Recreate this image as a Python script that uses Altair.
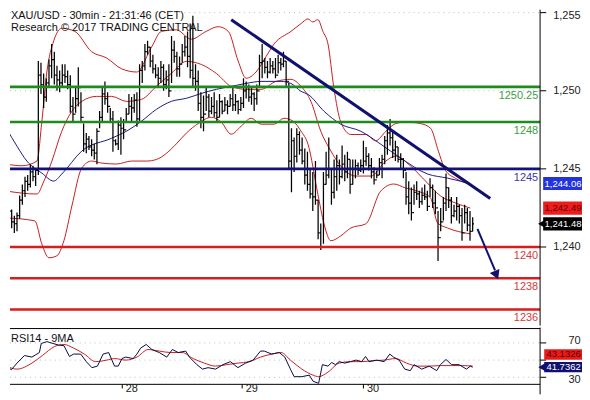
import altair as alt
import pandas as pd

# ---------------- data ----------------
# 30-min bars, index 0..175
highs = [1243.0, 1243.0, 1242.4, 1242.0, 1242.2, 1243.3, 1244.0, 1244.5, 1244.6, 1245.3,
         1245.2, 1245.0, 1251.9, 1251.8, 1251.1, 1250.8, 1252.0, 1253.0, 1252.5, 1251.6,
         1251.3, 1251.7, 1251.7, 1251.3, 1251.0, 1249.6, 1250.2, 1251.5, 1249.9, 1247.9,
         1247.3, 1247.1, 1246.9, 1246.6, 1247.6, 1248.7, 1250.2, 1250.6, 1249.9, 1248.9,
         1248.7, 1246.9, 1248.1, 1248.3, 1248.2, 1248.9, 1249.8, 1249.6, 1249.8, 1249.9,
         1251.7, 1251.9, 1253.0, 1253.2, 1252.8, 1252.3, 1251.7, 1251.5, 1251.9, 1251.7,
         1251.3, 1251.7, 1253.5, 1253.2, 1252.5, 1252.2, 1253.0, 1253.5, 1253.8, 1254.3,
         1254.8, 1251.7, 1251.3, 1249.9, 1249.7, 1250.2, 1249.8, 1249.6, 1249.9, 1249.4,
         1249.8, 1249.4, 1249.6, 1249.4, 1249.8, 1250.2, 1249.8, 1249.4, 1249.6, 1250.8,
         1250.6, 1250.4, 1250.2, 1249.9, 1250.4, 1252.3, 1253.0, 1252.1, 1251.9, 1252.1,
         1251.9, 1252.1, 1252.3, 1252.1, 1252.5, 1251.9, 1250.5, 1247.6, 1247.0, 1247.6,
         1247.4, 1247.0, 1246.3, 1246.1, 1245.0, 1244.8, 1245.5, 1243.0, 1241.5, 1244.8,
         1246.1, 1247.0, 1245.0, 1245.6, 1245.9, 1245.6, 1246.5, 1245.9, 1246.1, 1245.6,
         1245.6, 1245.6, 1245.4, 1245.6, 1246.8, 1246.4, 1246.0, 1245.7, 1245.1, 1244.9,
         1245.7, 1245.9, 1247.1, 1247.8, 1248.2, 1247.4, 1246.8, 1246.4, 1246.0, 1245.7,
         1244.8, 1244.2, 1243.8, 1244.0, 1244.2, 1243.6, 1243.8, 1244.0, 1243.6, 1244.4,
         1244.0, 1243.6, 1242.3, 1242.5, 1243.2, 1244.7, 1243.8, 1243.2, 1242.7, 1243.2,
         1242.7, 1242.5, 1242.7, 1242.5, 1242.3, 1241.9]
lows = [1241.8, 1242.0, 1241.2, 1240.9, 1241.0, 1241.8, 1242.7, 1243.2, 1243.6, 1243.8,
        1244.2, 1243.9, 1244.6, 1249.8, 1248.9, 1249.3, 1250.2, 1250.8, 1250.4, 1250.0,
        1249.9, 1250.2, 1250.5, 1250.1, 1248.6, 1248.0, 1248.6, 1249.0, 1248.0, 1246.1,
        1246.0, 1246.2, 1245.8, 1245.6, 1245.3, 1247.6, 1248.0, 1249.1, 1248.6, 1248.0,
        1246.1, 1246.5, 1246.2, 1245.9, 1246.9, 1248.0, 1248.5, 1248.0, 1248.6, 1247.7,
        1248.0, 1250.5, 1251.3, 1252.3, 1251.5, 1251.1, 1250.8, 1250.3, 1250.5, 1250.0,
        1250.1, 1249.6, 1250.5, 1251.8, 1250.9, 1250.9, 1251.8, 1252.2, 1251.5, 1250.8,
        1250.2, 1250.0, 1248.7, 1247.6, 1247.4, 1248.7, 1248.3, 1248.5, 1248.3, 1248.0,
        1248.3, 1248.5, 1248.7, 1248.5, 1249.0, 1248.7, 1248.7, 1248.5, 1248.7, 1248.9,
        1249.5, 1249.3, 1249.1, 1248.7, 1249.1, 1250.2, 1250.8, 1251.1, 1250.8, 1251.1,
        1251.1, 1250.8, 1251.1, 1251.3, 1251.5, 1250.2, 1245.0, 1243.5, 1244.8, 1245.4,
        1245.9, 1245.3, 1244.0, 1243.6, 1243.1, 1242.3, 1242.7, 1240.5, 1239.8, 1240.2,
        1244.0, 1244.4, 1242.7, 1243.1, 1243.6, 1244.0, 1244.4, 1244.2, 1244.4, 1243.4,
        1244.0, 1244.4, 1244.6, 1244.8, 1244.7, 1245.2, 1244.9, 1244.4, 1244.0, 1244.4,
        1244.6, 1244.4, 1245.3, 1245.9, 1246.5, 1245.7, 1245.5, 1245.4, 1245.0, 1244.4,
        1242.7, 1242.1, 1241.7, 1242.7, 1243.0, 1242.5, 1242.7, 1243.0, 1242.3, 1243.2,
        1242.5, 1242.1, 1239.1, 1241.0, 1241.7, 1242.3, 1242.5, 1241.5, 1241.9, 1241.7,
        1241.5, 1240.4, 1241.5, 1241.0, 1240.4, 1241.0]
closes = [1242.5, 1242.3, 1241.6, 1241.5, 1242.0, 1243.0, 1243.6, 1244.2, 1244.0, 1244.8,
          1244.5, 1244.9, 1251.0, 1250.4, 1249.6, 1250.5, 1251.6, 1252.0, 1251.0, 1250.7,
          1250.5, 1251.0, 1250.9, 1250.4, 1249.0, 1248.5, 1249.5, 1250.2, 1248.3, 1246.6,
          1246.9, 1246.4, 1246.2, 1246.0, 1247.4, 1248.3, 1249.8, 1249.5, 1249.0, 1248.2,
          1246.8, 1246.6, 1247.8, 1247.6, 1247.5, 1248.5, 1249.0, 1248.9, 1249.4, 1248.2,
          1251.3, 1251.6, 1252.5, 1252.8, 1251.9, 1251.4, 1251.0, 1250.8, 1251.5, 1250.4,
          1250.7, 1250.0, 1252.6, 1252.2, 1251.4, 1251.7, 1252.5, 1252.8, 1252.2, 1251.3,
          1250.8, 1250.6, 1249.2, 1248.3, 1248.5, 1249.6, 1248.7, 1249.0, 1248.6, 1248.3,
          1249.3, 1248.7, 1249.1, 1249.0, 1249.5, 1249.1, 1249.3, 1248.8, 1249.2, 1250.0,
          1250.2, 1249.6, 1249.8, 1249.5, 1250.0, 1251.8, 1251.9, 1251.5, 1251.2, 1251.6,
          1251.4, 1251.0, 1251.8, 1251.7, 1251.9, 1250.6, 1245.5, 1246.8, 1245.8, 1247.2,
          1246.2, 1245.5, 1244.6, 1244.0, 1243.4, 1243.2, 1243.0, 1240.9, 1240.0, 1244.0,
          1244.6, 1245.0, 1243.5, 1244.5, 1245.2, 1244.5, 1245.3, 1244.8, 1245.6, 1244.0,
          1245.0, 1245.2, 1244.9, 1245.2, 1245.5, 1245.8, 1245.2, 1244.8, 1244.3, 1244.6,
          1245.4, 1245.6, 1246.8, 1247.3, 1247.0, 1246.2, 1246.4, 1245.6, 1245.6, 1244.9,
          1243.2, 1242.8, 1242.2, 1243.5, 1243.4, 1242.9, 1243.3, 1243.2, 1242.6, 1243.8,
          1242.8, 1242.5, 1240.6, 1241.6, 1242.8, 1243.8, 1243.0, 1242.0, 1242.3, 1242.6,
          1242.0, 1240.9, 1242.2, 1241.4, 1241.0, 1241.48]
first_open = 1242.6

# Bollinger bands (upper / middle / lower) and navy moving average, sampled
upper_i = [0, 5.9, 11.5, 13.3, 15.2, 17.8, 20.8, 25.7, 32, 37.6, 43.3, 48.9, 54.5, 58.2,
           63.8, 69.4, 75, 79.5, 83.3, 87, 90, 93.7, 97.5, 100.5, 106.8, 110.6, 113.2, 115,
           116.9, 118.8, 120.7, 122.9, 125.5, 129.3, 134.9, 138.6, 142.4, 146.1, 149.8,
           155.4, 159.2, 162.2, 164.8, 168.5, 174.1]
upper_p = [1245.3, 1245.2, 1245.5, 1248.0, 1251.2, 1253.2, 1254.0, 1253.8, 1252.5, 1252.1,
           1251.4, 1251.2, 1252.8, 1253.8, 1253.9, 1253.3, 1253.8, 1254.1, 1253.8, 1251.9,
           1250.8, 1251.2, 1252.2, 1253.0, 1253.8, 1254.3, 1254.6, 1254.4, 1254.55, 1253.8,
           1253.0, 1250.2, 1248.0, 1247.2, 1247.2, 1246.8, 1247.4, 1247.9, 1248.0, 1247.9,
           1247.6, 1246.1, 1244.9, 1244.4, 1244.0]
mid_i = [0, 11.5, 14.1, 17.1, 20.8, 24.6, 28.3, 33.9, 39.5, 45.1, 50.7, 56.3, 61.9, 67.6,
         73.2, 78.8, 84.4, 90, 95.6, 101.2, 106.8, 110.6, 114.3, 118.0, 121.8, 125.5, 131.1,
         136.8, 142.4, 146.1, 151.7, 157.3, 162.9, 168.5, 174.1]
mid_p = [1243.58, 1243.39, 1244.22, 1245.5, 1247.41, 1248.69, 1249.32, 1249.64, 1249.64,
         1249.32, 1249.45, 1250.28, 1251.11, 1251.88, 1251.68, 1251.11, 1250.28, 1250.09,
         1250.09, 1250.6, 1250.73, 1250.28, 1249.32, 1247.41, 1246.14, 1245.18, 1244.54,
         1244.54, 1245.5, 1245.82, 1245.18, 1244.22, 1243.27, 1242.82, 1242.49]
lower_i = [0, 10.7, 13.3, 16.0, 19.0, 21.6, 24.6, 28.3, 32.0, 35.8, 41.4, 47.0, 52.6, 56.3,
           60.1, 63.8, 67.6, 72.0, 76.9, 80.6, 84.4, 88.1, 91.9, 95.6, 100.5, 104.2, 107.6,
           110.6, 113.2, 116.9, 119.2, 121.8, 125.5, 129.3, 134.9, 140.5, 145.4, 149.8,
           154.3, 159.2, 161.8, 165.5, 174.1]
lower_p = [1241.86, 1241.67, 1240.2, 1239.31, 1239.44, 1240.4, 1242.63, 1245.05, 1245.5,
           1245.37, 1245.31, 1245.5, 1245.5, 1245.6, 1246.0, 1246.6, 1247.3, 1247.9,
           1248.3, 1248.0, 1247.22, 1247.73, 1248.24, 1247.86, 1247.86, 1248.24, 1248.05,
           1247.41, 1246.58, 1243.39, 1241.48, 1240.4, 1240.71, 1241.22, 1241.48, 1243.58,
           1244.03, 1243.78, 1243.58, 1243.14, 1241.54, 1241.22, 1240.84]
ma_i = [0, 4.0, 7.7, 13.3, 17.8, 20.8, 28.3, 39.5, 45.1, 50.7, 56.3, 61.9, 67.6, 73.2,
        78.8, 84.4, 90.0, 95.6, 103.1, 106.8, 110.6, 113.2, 119.2, 125.5, 133.0, 140.5,
        148.0, 158.1, 165.5, 170.3, 174.1]
ma_p = [1247.6, 1246.45, 1245.5, 1244.73, 1244.22, 1244.67, 1246.14, 1246.96, 1247.41,
        1248.05, 1248.81, 1249.32, 1249.52, 1249.83, 1250.09, 1250.28, 1250.47, 1250.6,
        1250.6, 1250.47, 1249.96, 1249.77, 1248.69, 1247.86, 1247.41, 1246.58, 1245.69,
        1244.67, 1244.41, 1244.22, 1244.06]

# trend line and projected arrow
trend_i = [84.4, 181.6]
trend_p = [1254.55, 1243.1]
arrow_i = [176.8, 183.4]
arrow_p = [1241.16, 1238.5]
arrow_head_i = [183.9]
arrow_head_p = [1238.2]

# support / resistance levels
levels = [1250.25, 1248, 1245, 1240, 1238, 1236]
level_labels = ["1250.25", "1248", "1245", "1240", "1238", "1236"]
level_colors = ["#1f8a1f", "#1f8a1f", "#12127a", "#d91c1c", "#d91c1c", "#d91c1c"]
level_text_colors = ["#3e9e3e", "#3e9e3e", "#3a3aa6", "#d23c3c", "#d23c3c", "#d23c3c"]

price_ticks = [1255, 1250, 1245, 1240]
price_tick_labels = ["1,255", "1,250", "1,245", "1,240"]

last_values = [1244.06, 1242.49, 1241.48]
last_labels = ["1,244.06", "1,242.49", "1,241.48"]
last_fill = ["#2233dd", "#ee1c1c", "#000000"]
last_text = ["#ffffff", "#5a0000", "#ffffff"]

# RSI(14) and its 9-period MA
rsi_i = [0, 1.9, 4.0, 6.8, 9.6, 12.4, 13.1, 15.2, 19.5, 21.6, 23.7, 25.2, 27.9, 30, 32.1,
         34.2, 36.3, 38.4, 40.6, 42, 43.4, 44.8, 47.6, 49, 50.4, 52.5, 54.6, 57.4, 60.2,
         62.3, 64.5, 67.3, 68.7, 71.5, 73.6, 75.7, 78.5, 81.3, 84.1, 86.9, 89.8, 92.6, 95.4,
         96.8, 99.6, 102.4, 104.5, 106.6, 108, 110.9, 113.7, 115.1, 117.2, 118.6, 120.7,
         122.1, 123.5, 124.9, 127, 129.1, 131.3, 133.3, 134.8, 136.1, 139, 141.8, 143.9,
         145.3, 147.4, 149.5, 151.6, 153, 155.9, 158.7, 161.5, 162.9, 165, 167.1, 169.9,
         172.7, 174.1, 175]
rsi_v = [43, 38.8, 46.5, 55.3, 53.5, 58.8, 69.3, 71.5, 67.5, 66.8, 54.2, 57, 57, 48.2, 41.2,
         43, 57, 58.8, 43, 43, 51.8, 53.5, 51.8, 57, 64, 68.2, 62.3, 58.8, 53.5, 62.3, 58.8,
         60.5, 53.5, 44.7, 39.5, 41.2, 39.5, 44.7, 48.2, 41.2, 46.5, 50, 60.5, 60.5, 57,
         58.8, 53.5, 39.5, 30.7, 30.7, 32.5, 25.4, 23, 44.7, 43, 47.2, 44.7, 48.2, 46.5,
         48.2, 50, 48.2, 54.2, 48.2, 50, 48.2, 57, 53.5, 50, 39.5, 37.7, 44.7, 39.5, 43,
         37.7, 44.7, 50.7, 44.7, 44.7, 39.5, 43, 41.74]
rsima_i = [0, 4, 9.6, 13.5, 18.1, 21.6, 25.2, 29.3, 33.5, 37.7, 40.6, 44.8, 49, 53.2, 57.4,
           61.6, 65.9, 70.1, 74.3, 78.5, 82.7, 86.9, 91.2, 95.4, 99.6, 103.1, 106.6, 110.9,
           115.1, 117.2, 120.7, 124.9, 129.1, 133.3, 137.5, 141.8, 146, 150.2, 154.4, 158.7,
           162.9, 167.1, 171.3, 175]
rsima_v = [43, 39.5, 46.5, 55.3, 65.8, 68.2, 64, 57, 48.2, 50, 51.8, 50, 53.5, 62.3, 60.5,
           58.8, 58.8, 51.8, 46.5, 43, 44.7, 46.5, 48.2, 53.5, 57, 58.8, 50, 39.5, 32.5, 30.7,
           36, 46.5, 48.2, 48.2, 49.3, 50, 51.8, 46.5, 43, 43, 43.6, 43.6, 43.6, 43.13]
rsi_ticks = [70, 50, 30]
rsi_tick_labels = ["70", "", "30"]
rsi_last_labels = ["43.1326", "41.7362"]
rsi_last_values = [43.1326, 41.7362]

day_pos = [43.5, 88.5, 134.0]
day_labels = ["28", "29", "30"]

title_lines = ["XAU/USD - 30min - 21:31:46 (CET)", "Research \u00a9 2017 TRADING CENTRAL"]

# ---------------- layout constants ----------------
FONT = "Liberation Sans"
X_DOMAIN = [1.37, 216.03]
AXIS_X = 200.3
LABEL_X = 215.5
BADGE_X0 = 201.45
BADGE_X1 = 222.0
BADGE_TX = 202.0
Y_MAIN = [1234.97, 1255.19]
Y_RSI = [10.17, 87.86]
W = 574
H_MAIN = 317
H_RSI = 67

xs = alt.Scale(domain=X_DOMAIN, nice=False, zero=False)
ys = alt.Scale(domain=Y_MAIN, nice=False, zero=False)
yr = alt.Scale(domain=Y_RSI, nice=False, zero=False)


def X(f):
    return alt.X(f, type="quantitative", scale=xs, axis=None)


def YM(f):
    return alt.Y(f, type="quantitative", scale=ys, axis=None)


def YR(f):
    return alt.Y(f, type="quantitative", scale=yr, axis=None)


# ---------------- main panel ----------------
n = len(closes)
bars = pd.DataFrame({
    "i": list(range(n)),
    "high": highs[:n],
    "low": lows[:n],
    "close": closes,
    "open": [first_open] + closes[:-1],
})
bars["xo"] = bars["i"] - 0.5
bars["xc"] = bars["i"] + 0.5

grid_df = pd.DataFrame({"p": price_ticks, "x0": X_DOMAIN[0], "x1": AXIS_X})
grid = alt.Chart(grid_df).mark_rule(color="#bdbdbd", strokeDash=[1, 4]).encode(
    x=X("x0"), x2="x1", y=YM("p"))

band_rows = []
for name, ii, pp, col in [("upper", upper_i, upper_p, "#c62020"),
                          ("mid", mid_i, mid_p, "#c62020"),
                          ("lower", lower_i, lower_p, "#c62020"),
                          ("ma", ma_i, ma_p, "#1c1c8a")]:
    for a, b in zip(ii, pp):
        band_rows.append({"i": a, "p": b, "name": name, "col": col})
bands_df = pd.DataFrame(band_rows)
bands = alt.Chart(bands_df).mark_line(strokeWidth=1, clip=True, interpolate="monotone").encode(
    x=X("i"), y=YM("p"), detail="name:N", color=alt.Color("col:N", scale=None))

BW = 1.25
bc = alt.Chart(bars)
hl = bc.mark_rule(color="#000000", strokeWidth=BW, clip=True).encode(x=X("i"), y=YM("low"), y2="high")
op = bc.mark_rule(color="#000000", strokeWidth=BW, clip=True).encode(x=X("xo"), x2="i", y=YM("open"))
cl = bc.mark_rule(color="#000000", strokeWidth=BW, clip=True).encode(x=X("i"), x2="xc", y=YM("close"))

lev_df = pd.DataFrame({"p": levels, "lab": level_labels, "col": level_colors,
                       "tcol": level_text_colors, "x0": X_DOMAIN[0], "x1": AXIS_X,
                       "tx": AXIS_X - 0.7})
lev = alt.Chart(lev_df).mark_rule(strokeWidth=2.6).encode(
    x=X("x0"), x2="x1", y=YM("p"), color=alt.Color("col:N", scale=None))
lev_txt = alt.Chart(lev_df).mark_text(align="right", baseline="top", dy=3, fontSize=11,
                                      font=FONT).encode(
    x=X("tx"), y=YM("p"), text="lab:N", color=alt.Color("tcol:N", scale=None))

trend = alt.Chart(pd.DataFrame({"i": trend_i, "p": trend_p})).mark_line(
    color="#10106e", strokeWidth=3).encode(x=X("i"), y=YM("p"))
arrow = alt.Chart(pd.DataFrame({"i": arrow_i, "p": arrow_p})).mark_line(
    color="#10106e", strokeWidth=2).encode(x=X("i"), y=YM("p"))
arrow_head = alt.Chart(pd.DataFrame({"i": arrow_head_i, "p": arrow_head_p})).mark_point(
    shape="triangle-down", filled=True, color="#10106e", opacity=1, size=110, angle=337).encode(
    x=X("i"), y=YM("p"))

axis_line = alt.Chart(pd.DataFrame({"x": [AXIS_X], "y0": [Y_MAIN[0]], "y1": [Y_MAIN[1]]})).mark_rule(
    color="#000000").encode(x=X("x"), y=YM("y0"), y2="y1")
tick_df = pd.DataFrame({"p": price_ticks, "lab": price_tick_labels, "x0": AXIS_X,
                        "x1": AXIS_X + 2.3, "tx": LABEL_X})
ticks = alt.Chart(tick_df).mark_rule(color="#000000").encode(x=X("x0"), x2="x1", y=YM("p"))
# the topmost label sits at the panel edge: hang it from its tick instead of centring it
tick_txt_top = alt.Chart(tick_df.iloc[:1]).mark_text(
    align="right", baseline="top", dy=-3, fontSize=11, font=FONT, color="#222222").encode(
    x=X("tx"), y=YM("p"), text="lab:N")
tick_txt = alt.Chart(tick_df.iloc[1:]).mark_text(
    align="right", baseline="middle", fontSize=11, font=FONT, color="#222222").encode(
    x=X("tx"), y=YM("p"), text="lab:N")

badge_df = pd.DataFrame({"v": last_values, "lab": last_labels, "fill": last_fill,
                         "tcol": last_text})
badge_df["y0"] = badge_df["v"] - 0.42
badge_df["y1"] = badge_df["v"] + 0.42
badge_df["x0"] = BADGE_X0
badge_df["x1"] = BADGE_X1
badge_df["tx"] = BADGE_TX
badges = alt.Chart(badge_df).mark_rect(clip=True).encode(
    x=X("x0"), x2="x1", y=YM("y0"), y2="y1", color=alt.Color("fill:N", scale=None))
badge_txt = alt.Chart(badge_df).mark_text(align="left", baseline="middle", fontSize=9.5,
                                          font=FONT).encode(
    x=X("tx"), y=YM("v"), text="lab:N", color=alt.Color("tcol:N", scale=None))
pointer = alt.Chart(pd.DataFrame({"x": [200.9], "v": [last_values[2]]})).mark_point(
    shape="triangle-left", filled=True, color="#000000", opacity=1, size=70).encode(
    x=X("x"), y=YM("v"))

title_df = pd.DataFrame({"t": [title_lines[0]]})
title2_df = pd.DataFrame({"t": [title_lines[1]]})
t1 = alt.Chart(title_df).mark_text(align="left", baseline="top", fontSize=11, font=FONT,
                                   color="#111111").encode(
    x=alt.value(1), y=alt.value(0), text="t:N")
t2 = alt.Chart(title2_df).mark_text(align="left", baseline="top", fontSize=11, font=FONT,
                                    color="#111111").encode(
    x=alt.value(1), y=alt.value(12), text="t:N")

main = alt.layer(grid, bands, hl, op, cl, lev, lev_txt, trend, arrow, arrow_head,
                 axis_line, ticks, tick_txt_top, tick_txt, badges, badge_txt, pointer,
                 t1, t2).properties(width=W, height=H_MAIN)

# ---------------- RSI panel ----------------
rgrid_df = pd.DataFrame({"r": rsi_ticks, "lab": rsi_tick_labels, "x0": X_DOMAIN[0],
                         "x1": AXIS_X, "tx": LABEL_X, "tk": AXIS_X + 2.3})
rgrid = alt.Chart(rgrid_df).mark_rule(color="#bdbdbd", strokeDash=[1, 4]).encode(
    x=X("x0"), x2="x1", y=YR("r"))
rticks = alt.Chart(rgrid_df).mark_rule(color="#000000").encode(x=X("x1"), x2="tk", y=YR("r"))
rtick_70 = alt.Chart(rgrid_df.iloc[:1]).mark_text(
    align="right", baseline="middle", dy=-1.5, fontSize=11, font=FONT, color="#222222").encode(
    x=X("tx"), y=YR("r"), text="lab:N")
rtick_30 = alt.Chart(rgrid_df.iloc[2:]).mark_text(
    align="right", baseline="middle", dy=2.5, fontSize=11, font=FONT, color="#222222").encode(
    x=X("tx"), y=YR("r"), text="lab:N")

border_df = pd.DataFrame({"r": [86.7, 21.8], "x0": X_DOMAIN[0], "x1": AXIS_X})
borders = alt.Chart(border_df).mark_rule(color="#000000").encode(x=X("x0"), x2="x1", y=YR("r"))
raxis = alt.Chart(pd.DataFrame({"x": [AXIS_X], "y0": [Y_RSI[0]], "y1": [Y_RSI[1]]})).mark_rule(
    color="#000000").encode(x=X("x"), y=YR("y0"), y2="y1")

rsi_line = alt.Chart(pd.DataFrame({"i": rsi_i, "r": rsi_v})).mark_line(
    color="#0b0b40", strokeWidth=1, clip=True).encode(x=X("i"), y=YR("r"))
rsima_line = alt.Chart(pd.DataFrame({"i": rsima_i, "r": rsima_v})).mark_line(
    color="#c62020", strokeWidth=1, clip=True, interpolate="monotone").encode(x=X("i"), y=YR("r"))

rb_df = pd.DataFrame({"lab": rsi_last_labels, "v": rsi_last_values,
                      "fill": ["#e81a1a", "#101070"], "tcol": ["#5a0000", "#ffffff"]})
rb_df["yc"] = rb_df["v"] + pd.Series([13.4, 0.0])
rb_df["y0"] = rb_df["yc"] - 6.0
rb_df["y1"] = rb_df["yc"] + 6.0
rb_df["x0"] = BADGE_X0 + 0.4
rb_df["x1"] = BADGE_X1
rb_df["tx"] = BADGE_TX + 0.7
rbadges = alt.Chart(rb_df).mark_rect(clip=True).encode(
    x=X("x0"), x2="x1", y=YR("y0"), y2="y1", color=alt.Color("fill:N", scale=None))
rbadge_txt = alt.Chart(rb_df).mark_text(align="left", baseline="middle", fontSize=9.5,
                                        font=FONT).encode(
    x=X("tx"), y=YR("yc"), text="lab:N", color=alt.Color("tcol:N", scale=None))
rpointer = alt.Chart(pd.DataFrame({"x": [200.9], "v": [rsi_last_values[1]]})).mark_point(
    shape="triangle-left", filled=True, color="#101070", opacity=1, size=60).encode(
    x=X("x"), y=YR("v"))

day_df = pd.DataFrame({"i": day_pos, "lab": day_labels, "r0": 21.8, "r1": 17.0, "tr": 10.6})
day_df["tx"] = day_df["i"] + 1.3
day_ticks = alt.Chart(day_df).mark_rule(color="#000000").encode(x=X("i"), y=YR("r0"), y2="r1")
day_txt = alt.Chart(day_df).mark_text(align="left", baseline="bottom", fontSize=11, font=FONT,
                                      color="#222222").encode(
    x=X("tx"), y=YR("tr"), text="lab:N")

rsi_title = alt.Chart(pd.DataFrame({"t": ["RSI14 - 9MA"]})).mark_text(
    align="left", baseline="top", fontSize=11, font=FONT, color="#111111").encode(
    x=alt.value(1), y=alt.value(5), text="t:N")

rsi = alt.layer(rgrid, borders, raxis, rticks, rtick_70, rtick_30, rsima_line, rsi_line,
                rbadges, rbadge_txt, rpointer, day_ticks, day_txt, rsi_title).properties(
    width=W, height=H_RSI)

chart = alt.vconcat(main, rsi, spacing=0).properties(padding=0).configure_view(stroke=None)

chart.save("out.html", embed_options={"renderer": "svg", "actions": False})
